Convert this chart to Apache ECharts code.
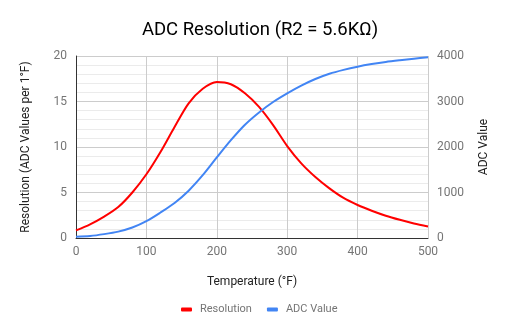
<!DOCTYPE html>
<html>
<head>
<meta charset="utf-8">
<script src="https://cdn.jsdelivr.net/npm/echarts@6/dist/echarts.min.js"></script>
<style>
  html, body { margin: 0; padding: 0; background: #fff; }
  #chart { width: 509px; height: 329px; }
</style>
</head>
<body>
<div id="chart"></div>
<script>
// Temperature samples (°F)
const temperatures = [0, 20, 40, 60, 80, 100, 120, 140, 160, 180, 200, 220, 240,
  260, 280, 300, 320, 340, 360, 380, 400, 420, 440, 460, 480, 500];
// ADC counts gained per 1 °F
const resolution = [0.83, 1.5, 2.35, 3.4, 5.0, 7.0, 9.45, 12.2, 14.8, 16.4, 17.15, 16.9,
  15.9, 14.4, 12.4, 10.1, 8.2, 6.7, 5.45, 4.4, 3.63, 3.0, 2.45, 2.0, 1.6, 1.27];
// Raw ADC reading at each temperature
const adcValue = [30, 45, 85, 140, 230, 370, 560, 770, 1040, 1380, 1770, 2150, 2490,
  2760, 2990, 3180, 3350, 3495, 3610, 3695, 3765, 3822, 3870, 3908, 3942, 3970];

const seriesNames = ['Resolution', 'ADC Value'];
const seriesColors = ['#ff0000', '#4285f4'];

const chart = echarts.init(document.getElementById('chart'));
const font = 'Roboto, Arial, sans-serif';
const grey = '#757575';

chart.setOption({
  animation: false,
  textStyle: { fontFamily: font },
  title: {
    text: 'ADC Resolution (R2 = 5.6KΩ)',
    left: 255, top: 16, textAlign: 'center',
    textStyle: { fontFamily: font, fontSize: 18.5, fontWeight: 'normal', color: '#000' }
  },
  legend: {
    data: seriesNames,
    top: 299, left: 176,
    icon: 'roundRect', itemWidth: 11, itemHeight: 4, itemGap: 15,
    textStyle: { fontFamily: font, fontSize: 11, color: grey, padding: [0, 0, 0, 3] }
  },
  grid: { left: 76, right: 81, top: 56, bottom: 91 },
  xAxis: {
    type: 'value', min: 0, max: 500, interval: 100,
    name: 'Temperature (°F)', nameLocation: 'middle', nameGap: 38,
    nameTextStyle: { fontFamily: font, fontSize: 12, color: '#222' },
    axisLine: { show: true, lineStyle: { color: '#333' } },
    axisTick: { show: false },
    axisLabel: { color: grey, fontSize: 12, margin: 8 },
    splitLine: { show: true, lineStyle: { color: '#ccc' } }
  },
  yAxis: [
    {
      type: 'value', min: 0, max: 20, interval: 5,
      name: 'Resolution (ADC Values per 1°F)', nameLocation: 'middle', nameGap: 44,
      nameTextStyle: { fontFamily: font, fontSize: 12, color: '#222' },
      axisLine: { show: true, onZero: false, lineStyle: { color: '#333' } },
      axisTick: { show: false },
      axisLabel: { color: grey, fontSize: 12, margin: 9 },
      splitLine: { show: true, lineStyle: { color: '#ccc' } },
      minorTick: { show: false, splitNumber: 5 },
      minorSplitLine: { show: true, lineStyle: { color: '#ebebeb' } }
    },
    {
      type: 'value', min: 0, max: 4000, interval: 1000,
      name: 'ADC Value', nameLocation: 'middle', nameGap: 50,
      nameTextStyle: { fontFamily: font, fontSize: 12, color: '#222' },
      axisLine: { show: false },
      axisTick: { show: false },
      axisLabel: { color: grey, fontSize: 12, margin: 9, formatter: v => String(v) },
      splitLine: { show: false }
    }
  ],
  series: [
    {
      name: seriesNames[0], type: 'line', yAxisIndex: 0,
      data: temperatures.map((t, i) => [t, resolution[i]]),
      smooth: 0.3, showSymbol: false, color: seriesColors[0],
      lineStyle: { width: 2, color: seriesColors[0] }
    },
    {
      name: seriesNames[1], type: 'line', yAxisIndex: 1,
      data: temperatures.map((t, i) => [t, adcValue[i]]),
      smooth: 0.3, showSymbol: false, color: seriesColors[1],
      lineStyle: { width: 2, color: seriesColors[1] }
    }
  ]
});
</script>
</body>
</html>
